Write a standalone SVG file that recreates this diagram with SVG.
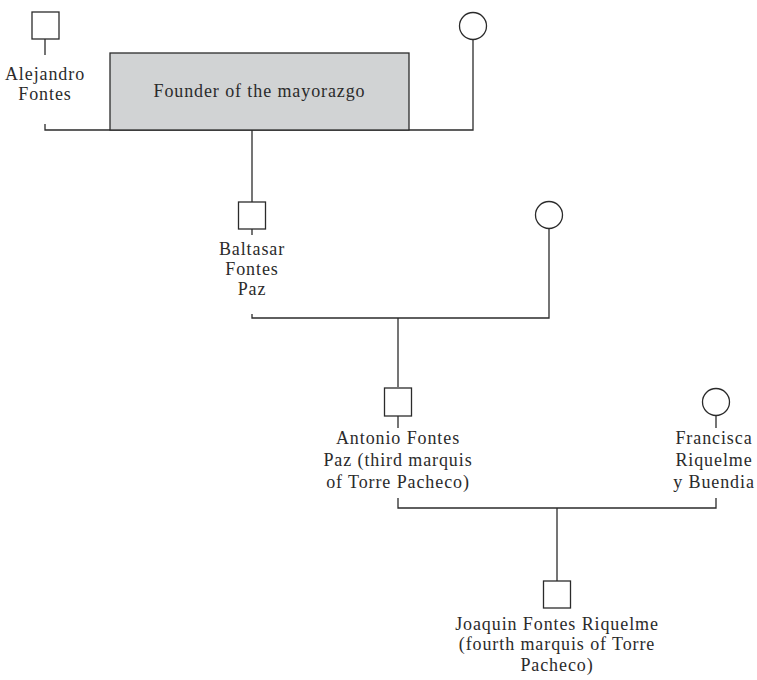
<svg xmlns="http://www.w3.org/2000/svg" width="757" height="680" viewBox="0 0 757 680">
<style>
.ln{fill:none;stroke:#2b2b2b;stroke-width:1.3}
.sym{fill:#fff;stroke:#2b2b2b;stroke-width:1.3}
text{font-family:"Liberation Serif","Times New Roman",serif;font-size:18px;letter-spacing:0.9px;fill:#2b2b2b;text-anchor:middle}
</style>
<rect width="757" height="680" fill="#fff"/>
<g id="connectors">
<path class="ln" d="M45,39V55M45,124V130H473V40"/>
<path class="ln" d="M252,130V202"/>
<path class="ln" d="M252,229V235M252,314V318H549V229"/>
<path class="ln" d="M398,318V387"/>
<path class="ln" d="M398,416V428M398,498V508H716V498M716,416V428"/>
<path class="ln" d="M557,508V581"/>
</g>
<g id="founder">
<rect x="110" y="53" width="299" height="77" fill="#d1d3d4" stroke="#2b2b2b" stroke-width="1.3"/>
<text x="259.5" y="97">Founder of the mayorazgo</text>
</g>
<g id="alejandro">
<rect class="sym" x="32" y="12" width="27" height="27"/>
<text x="45" y="80">Alejandro</text>
<text x="45" y="100">Fontes</text>
</g>
<g id="wife1">
<circle class="sym" cx="473" cy="26" r="13.5"/>
</g>
<g id="baltasar">
<rect class="sym" x="238.5" y="202" width="27" height="27"/>
<text x="252" y="255">Baltasar</text>
<text x="252" y="275">Fontes</text>
<text x="252" y="295">Paz</text>
</g>
<g id="wife2">
<circle class="sym" cx="549" cy="215" r="13.5"/>
</g>
<g id="antonio">
<rect class="sym" x="384.5" y="388" width="27" height="28"/>
<text x="398" y="444">Antonio Fontes</text>
<text x="398" y="466">Paz (third marquis</text>
<text x="398" y="488">of Torre Pacheco)</text>
</g>
<g id="francisca">
<circle class="sym" cx="716" cy="402" r="13.5"/>
<text x="714" y="444">Francisca</text>
<text x="714" y="466">Riquelme</text>
<text x="714" y="488">y Buendia</text>
</g>
<g id="joaquin">
<rect class="sym" x="543.5" y="581" width="27" height="27"/>
<text x="557" y="630">Joaquin Fontes Riquelme</text>
<text x="557" y="650">(fourth marquis of Torre</text>
<text x="557" y="671">Pacheco)</text>
</g>
</svg>
